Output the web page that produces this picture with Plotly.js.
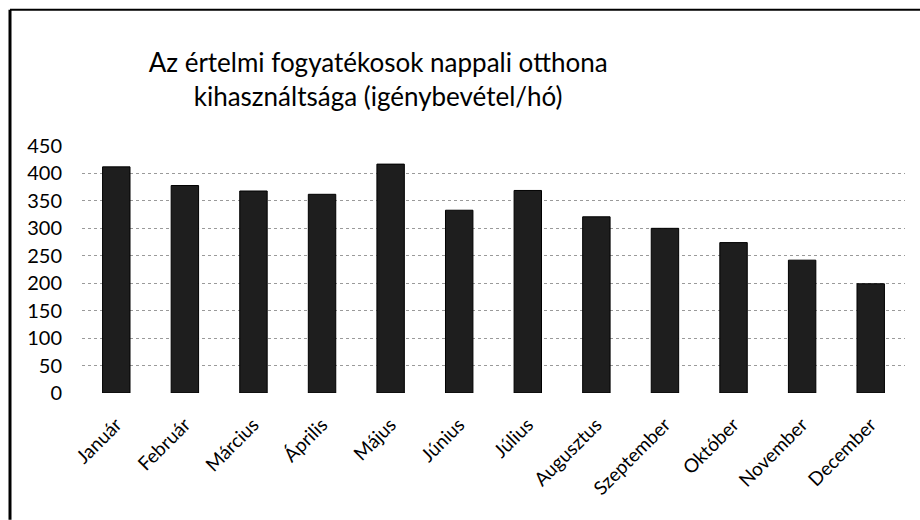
<!DOCTYPE html>
<html>
<head>
<meta charset="utf-8">
<script src="https://cdn.plot.ly/plotly-3.0.1.min.js"></script>
<style>html,body{margin:0;padding:0;background:#fff;}#chart{width:920px;height:520px;}</style>
</head>
<body>
<div id="chart"></div>
<script>
const months = ["Január","Február","Március","Április","Május","Június","Július","Augusztus","Szeptember","Október","November","December"];
const usage = [412, 378, 368, 362, 417, 333, 369, 321, 300, 274, 242, 199];
const yTicks = [0, 50, 100, 150, 200, 250, 300, 350, 400, 450];
const chartTitle = "Az értelmi fogyatékosok nappali otthona<br>kihasználtsága (igénybevétel/hó)";

const trace = {
  type: "bar",
  x: months,
  y: usage,
  marker: {color: "#1e1e1e", line: {color: "#000", width: 1}},
  hoverinfo: "x+y"
};

const layout = {
  width: 920, height: 520,
  margin: {l: 82, r: 15, t: 146, b: 127},
  paper_bgcolor: "#fff", plot_bgcolor: "#fff",
  font: {family: "Lato, 'Open Sans', sans-serif", color: "#000"},
  title: {
    text: chartTitle,
    font: {family: "Lato, sans-serif", size: 26, color: "#000"},
    x: 0.411, xanchor: "center", xref: "container",
    y: 1 - 72/520, yanchor: "middle", yref: "container"
  },
  bargap: 0.6,
  showlegend: false,
  xaxis: {
    type: "category",
    tickangle: -45,
    tickfont: {size: 19, color: "#000"},
    ticks: "", showline: false, showgrid: false, zeroline: false,
    ticklabelstandoff: 16
  },
  yaxis: {
    range: [0, 450],
    tickvals: yTicks,
    ticktext: yTicks.map(String),
    tickfont: {size: 20, color: "#000"},
    showgrid: true, gridcolor: "#9a9a9a", griddash: "dot", gridwidth: 1,
    zeroline: false, showline: false, ticks: "",
    ticklabelstandoff: 19
  },
  shapes: [
    {type: "line", xref: "paper", yref: "paper", x0: (10-82)/823, x1: (10-82)/823, y0: -127/247.6, y1: (393.3-9)/247.6, line: {color: "#000", width: 3}},
    {type: "line", xref: "paper", yref: "paper", x0: (10-82)/823, x1: (920-82)/823, y0: (393.3-9)/247.6, y1: (393.3-9)/247.6, line: {color: "#000", width: 2}}
  ]
};

Plotly.newPlot("chart", [trace], layout, {displayModeBar: false, staticPlot: true});
</script>
</body>
</html>
